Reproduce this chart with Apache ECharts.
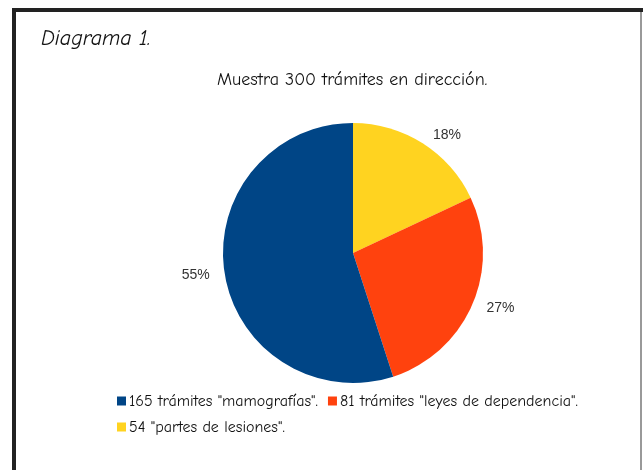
<!DOCTYPE html>
<html>
<head>
<meta charset="utf-8">
<script src="https://cdn.jsdelivr.net/npm/echarts@6/dist/echarts.min.js"></script>
<style>
  html, body { margin: 0; padding: 0; background: #fff; }
  #main { width: 643px; height: 470px; }
</style>
</head>
<body>
<div id="main"></div>
<script>
// datos del diagrama (orden de dibujo: desde arriba, sentido horario)
var categorias = ['54 "partes de lesiones".', '81 trámites "leyes de dependencia".', '165 trámites "mamografías".'];
var valores = [54, 81, 165];
var colores = ['#ffd320', '#ff420e', '#004586'];
// orden de la leyenda
var ordenLeyenda = [categorias[2], categorias[1], categorias[0]];

var fuente = '"Comic Sans MS", "Comic Neue", "DejaVu Sans", sans-serif';

var myChart = echarts.init(document.getElementById('main'));

myChart.setOption({
    animation: false,
    color: colores,
    graphic: [{
        type: 'rect',
        shape: { x: 14, y: 10, width: 650, height: 480 },
        style: { fill: 'none', stroke: '#222', lineWidth: 4 }
    }, {
        type: 'line',
        shape: { x1: 641, y1: 12, x2: 641, y2: 470 },
        style: { stroke: '#999', lineWidth: 2 }
    }],
    title: [{
        text: 'Diagrama 1.',
        left: 36,
        top: 23,
        textStyle: { fontFamily: fuente, fontStyle: 'italic', fontWeight: 'normal', fontSize: 22, color: '#111' }
    }, {
        text: 'Muestra 300 trámites en dirección.',
        left: 212,
        top: 66,
        textStyle: { fontFamily: fuente, fontWeight: 'normal', fontSize: 18, color: '#111' }
    }],
    legend: {
        data: ordenLeyenda,
        left: 112,
        top: 388,
        width: 500,
        orient: 'horizontal',
        itemWidth: 9,
        itemHeight: 9,
        itemGap: 10,
        icon: 'rect',
        textStyle: { fontFamily: fuente, fontSize: 16, color: '#111', padding: [0, 0, 0, -2] }
    },
    series: [{
        type: 'pie',
        center: [353, 253],
        radius: 130,
        startAngle: 90,
        clockwise: true,
        avoidLabelOverlap: false,
        data: categorias.map(function (c, i) {
            return { name: c, value: valores[i] };
        }),
        label: {
            show: true,
            position: 'outside',
            formatter: '{d}%',
            fontFamily: '"Liberation Sans", Arial, sans-serif',
            fontSize: 14,
            color: '#333'
        },
        labelLine: { show: false, length: 10, length2: 0 },
        itemStyle: { borderWidth: 0 },
        emphasis: { disabled: true }
    }]
});
</script>
</body>
</html>
